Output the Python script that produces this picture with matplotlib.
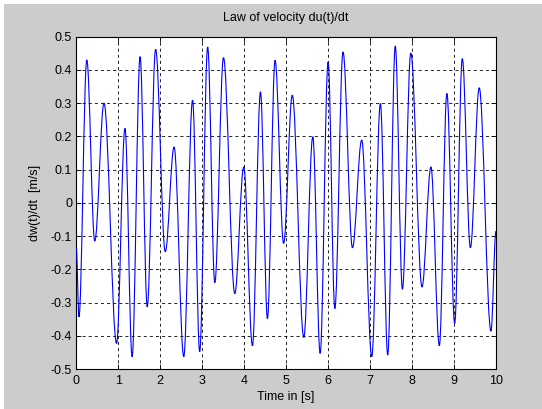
import matplotlib
matplotlib.use("Agg")
import matplotlib.pyplot as plt
from matplotlib.path import Path
from matplotlib.patches import PathPatch
from matplotlib.ticker import FuncFormatter

plt.rcParams['font.family'] = ['Liberation Sans', 'DejaVu Sans']
plt.rcParams['lines.scale_dashes'] = False

# Turning points of the velocity signal (time [s], velocity [m/s]),
# plus the values at both ends of the record.
t_pts = [0.00, 0.063, 0.25, 0.44, 0.66, 0.96, 1.16, 1.33, 1.52, 1.69, 1.89,
         2.12, 2.33, 2.56, 2.77, 2.94, 3.13, 3.30, 3.507, 3.776, 3.99,
         4.197, 4.388, 4.554, 4.736, 4.94, 5.146, 5.42, 5.635, 5.81, 6.00,
         6.16, 6.355, 6.58, 6.80, 7.04, 7.245, 7.42, 7.60, 7.77, 7.97,
         8.237, 8.45, 8.65, 8.83, 9.015, 9.197, 9.39, 9.60, 9.88, 10.00]
v_pts = [-0.136, -0.343, 0.430, -0.115, 0.300, -0.423, 0.224, -0.463, 0.440,
         -0.313, 0.462, -0.147, 0.168, -0.463, 0.309, -0.448, 0.469, -0.240,
         0.437, -0.273, 0.108, -0.430, 0.334, -0.348, 0.429, -0.122, 0.324,
         -0.405, 0.199, -0.453, 0.424, -0.318, 0.454, -0.135, 0.189, -0.463,
         0.299, -0.458, 0.472, -0.260, 0.451, -0.253, 0.108, -0.430, 0.329,
         -0.363, 0.434, -0.135, 0.346, -0.386, -0.085]

x_ticks = list(range(0, 11))
y_ticks = [-0.5, -0.4, -0.3, -0.2, -0.1, 0, 0.1, 0.2, 0.3, 0.4, 0.5]

fig = plt.figure(figsize=(5.42, 4.09), dpi=100, facecolor='white')
# grey figure panel with a thin white margin along the top and left edges
fig.patches.append(plt.Rectangle((4 / 542, 0), 1, 1 - 4 / 409,
                                 transform=fig.transFigure,
                                 facecolor='#cccccc', edgecolor='none',
                                 zorder=-1))

ax = fig.add_axes([76.3 / 542, 1 - 369 / 409, (496 - 76.3) / 542,
                   (369 - 36.7) / 409])
ax.set_facecolor('white')

# Smooth curve through the turning points (horizontal tangents at extrema)
a = 0.364
verts = [(t_pts[0], v_pts[0])]
codes = [Path.MOVETO]
for i in range(len(t_pts) - 1):
    t0, v0, t1, v1 = t_pts[i], v_pts[i], t_pts[i + 1], v_pts[i + 1]
    dt = t1 - t0
    verts += [(t0 + a * dt, v0), (t1 - a * dt, v1), (t1, v1)]
    codes += [Path.CURVE4] * 3
ax.add_patch(PathPatch(Path(verts, codes), facecolor='none',
                       edgecolor=(0, 0, 1), lw=0.8, zorder=3))

ax.set_xlim(0, 10)
ax.set_ylim(-0.5, 0.5)
ax.set_xticks(x_ticks)
ax.set_yticks(y_ticks)
ax.yaxis.set_major_formatter(FuncFormatter(lambda v, p: '%g' % round(v, 2)))
ax.grid(True, color='black', linestyle=(0, (2.2, 2.2)), linewidth=0.6)
ax.tick_params(direction='in', length=3.5, width=0.6, top=True, right=True,
               labelsize=9, colors='black')
ax.tick_params(axis='x', pad=4)
ax.tick_params(axis='y', pad=3)
for s in ax.spines.values():
    s.set_linewidth(0.8)
    s.set_color('black')

ax.set_title('Law of velocity du(t)/dt', fontsize=9, pad=11)
ax.set_xlabel('Time in [s]', fontsize=9, labelpad=3)
ax.set_ylabel('dw(t)/dt  [m/s]', fontsize=9, labelpad=7)

fig.savefig('out.png', dpi=100, facecolor=fig.get_facecolor())
